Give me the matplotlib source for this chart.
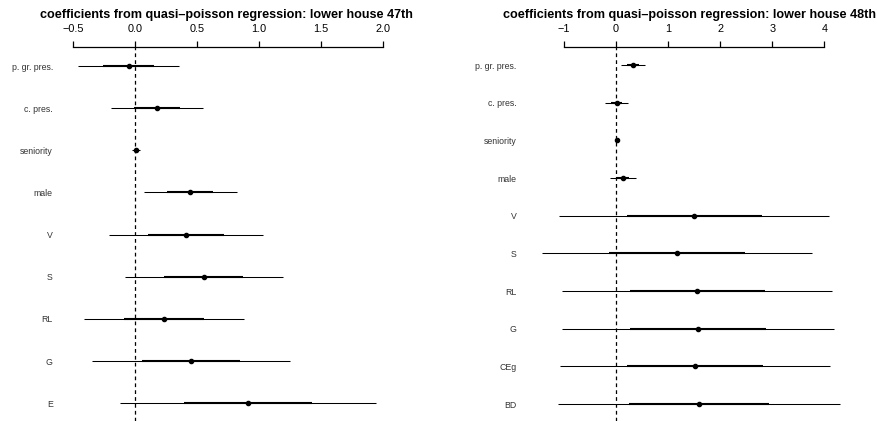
import matplotlib
matplotlib.use("Agg")
import matplotlib.pyplot as plt
import numpy as np

plt.rcParams['font.family'] = ['Liberation Sans', 'DejaVu Sans']

# lower house 47th
labels_47 = ['p. gr. pres.', 'c. pres.', 'seniority', 'male', 'V', 'S', 'RL', 'G', 'E']
est_47 = [-0.053, 0.173, 0.006, 0.443, 0.410, 0.553, 0.232, 0.451, 0.912]
se_47 = [0.205, 0.186, 0.017, 0.188, 0.310, 0.320, 0.322, 0.400, 0.516]
ticks_47 = [-0.5, 0.0, 0.5, 1.0, 1.5, 2.0]
ticklabels_47 = ['\u22120.5', '0.0', '0.5', '1.0', '1.5', '2.0']

# lower house 48th
labels_48 = ['p. gr. pres.', 'c. pres.', 'seniority', 'male', 'V', 'S', 'RL', 'G', 'CEg', 'BD']
est_48 = [0.333, 0.013, 0.026, 0.128, 1.504, 1.171, 1.562, 1.575, 1.517, 1.594]
se_48 = [0.115, 0.110, 0.008, 0.125, 1.298, 1.299, 1.298, 1.303, 1.300, 1.351]
ticks_48 = [-1, 0, 1, 2, 3, 4]
ticklabels_48 = ['\u22121', '0', '1', '2', '3', '4']

W, H = 878, 421
fig = plt.figure(figsize=(W / 100, H / 100), dpi=100)


def px_axes(x0, x1, y0, y1):
    # pixel box -> figure fraction axes
    return fig.add_axes([x0 / W, 1 - y1 / H, (x1 - x0) / W, (y1 - y0) / H])


def coefplot(ax, labels, est, se, ticks, ticklabels, xlim, ylim, title, title_x, pad):
    est = np.array(est)
    se = np.array(se)
    rows = np.arange(len(labels))
    ax.hlines(rows, est - 2 * se, est + 2 * se, color='black', lw=0.75, clip_on=False)
    ax.hlines(rows, est - se, est + se, color='black', lw=1.5, clip_on=False)
    ax.plot(est, rows, 'o', color='black', ms=3.0, clip_on=False)
    ax.axvline(0, color='black', lw=0.9, ls=(0, (3, 2.5)))
    ax.set_xlim(*xlim)
    ax.set_ylim(*ylim)
    for s in ['left', 'right', 'bottom']:
        ax.spines[s].set_visible(False)
    ax.spines['top'].set_bounds(ticks[0], ticks[-1])
    ax.spines['top'].set_linewidth(0.9)
    ax.xaxis.tick_top()
    ax.set_xticks(ticks)
    ax.set_xticklabels(ticklabels, fontsize=7.8)
    ax.tick_params(axis='x', direction='out', length=4.3, width=0.9, pad=4.5)
    ax.set_yticks(rows)
    ax.set_yticklabels(labels, fontsize=6.3, color='#333333')
    ax.tick_params(axis='y', length=0, pad=pad)
    fig.text(title_x / W, 1 - 15 / H, title, fontsize=9.1, fontweight='bold',
             ha='center', va='center')


ax1 = px_axes(61.1, 394.9, 46.7, 421)
coefplot(ax1, labels_47, est_47, se_47, ticks_47, ticklabels_47,
         (-0.6, 2.1), (8.42, -0.458),
         'coefficients from quasi\u2013poisson regression: lower house 47th', 226.5, 6.0)

ax2 = px_axes(532.7, 850.3, 46.7, 421)
coefplot(ax2, labels_48, est_48, se_48, ticks_48, ticklabels_48,
         (-1.6, 4.5), (9.45, -0.486),
         'coefficients from quasi\u2013poisson regression: lower house 48th', 689.5, 11.5)

fig.savefig('out.png', dpi=100)
